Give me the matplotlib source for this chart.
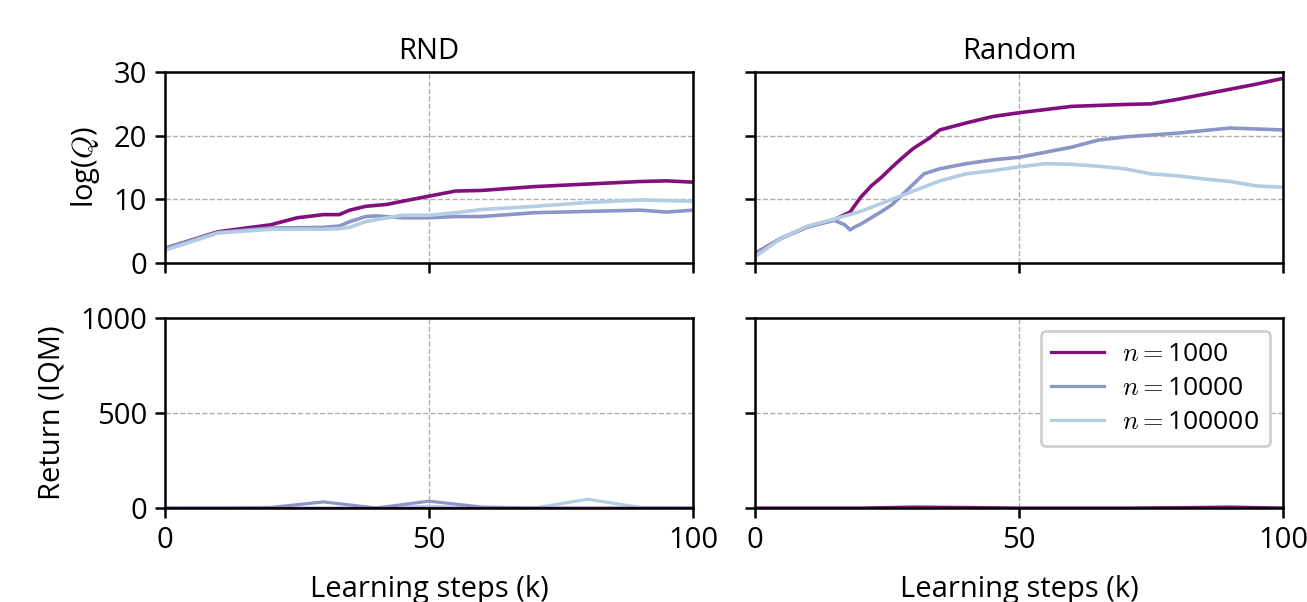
import numpy as np
import matplotlib
matplotlib.use("Agg")
import matplotlib.pyplot as plt

plt.rcParams['font.family'] = ['Open Sans', 'DejaVu Sans']
plt.rcParams['mathtext.fontset'] = 'cm'
plt.rcParams['font.size'] = 21

# data (k learning steps)
labels = ['$n{=}$1000', '$n{=}$10000', '$n{=}$100000']
colors = ['#810f7c', '#8c96c6', '#b3cde3']

rnd_steps = [0, 10, 20, 25, 30, 33, 35, 38, 42, 45, 50, 55, 60, 70, 80, 90, 95, 100]
rnd_q_1000 = [2.3, 4.9, 6.0, 7.1, 7.6, 7.6, 8.3, 8.9, 9.2, 9.7, 10.5, 11.3, 11.4, 12.0, 12.4, 12.8, 12.9, 12.7]

rnd_steps_b = [0, 10, 20, 30, 33, 35, 38, 40, 45, 50, 55, 60, 65, 70, 80, 90, 95, 100]
rnd_q_10000 = [2.3, 4.8, 5.5, 5.6, 5.8, 6.5, 7.3, 7.4, 7.1, 7.1, 7.3, 7.3, 7.6, 7.9, 8.1, 8.3, 8.0, 8.3]

rnd_steps_c = [0, 10, 20, 30, 33, 35, 38, 40, 45, 50, 55, 60, 70, 80, 90, 100]
rnd_q_100000 = [2.0, 4.7, 5.3, 5.3, 5.4, 5.6, 6.5, 6.8, 7.5, 7.5, 7.9, 8.4, 8.9, 9.5, 9.9, 9.7]

rand_steps_a = [0, 5, 10, 15, 18, 20, 22, 24, 26, 28, 30, 33, 35, 40, 45, 50, 55, 60, 70, 75, 80, 85, 90, 95, 100]
rand_q_1000 = [1.5, 3.9, 5.7, 6.8, 8.0, 10.3, 12.1, 13.5, 15.1, 16.6, 18.0, 19.6, 20.9, 22.0, 23.0, 23.6, 24.1,
               24.6, 24.9, 25.0, 25.7, 26.5, 27.3, 28.1, 29.0]

rand_steps_b = [0, 5, 10, 15, 17, 18, 19, 20, 22, 24, 26, 28, 30, 32, 35, 40, 45, 50, 55, 60, 65, 70, 80, 90, 100]
rand_q_10000 = [1.5, 3.9, 5.7, 6.7, 6.0, 5.2, 5.7, 6.1, 7.1, 8.1, 9.2, 10.8, 12.4, 14.0, 14.8, 15.6, 16.2, 16.6,
                17.4, 18.2, 19.3, 19.8, 20.4, 21.2, 20.9]

rand_steps_c = [0, 5, 10, 15, 20, 25, 30, 35, 40, 45, 50, 55, 60, 65, 70, 75, 80, 85, 90, 95, 100]
rand_q_100000 = [1.0, 3.9, 5.8, 6.9, 8.1, 9.7, 11.3, 12.9, 14.0, 14.5, 15.1, 15.6, 15.5, 15.2, 14.8, 14.0, 13.7,
                 13.2, 12.8, 12.1, 11.9]

eval_steps = [0, 10, 20, 30, 40, 50, 60, 70, 80, 90, 100]
rnd_ret_1000 = [0, 0, 0, 0, 0, 0, 0, 0, 0, 0, 0]
rnd_ret_10000 = [0, 0, 3, 32, 0, 36, 5, 0, 0, 0, 0]
rnd_ret_100000 = [0, 0, 0, 0, 0, 8, 0, 0, 46, 3, 0]
rand_ret_1000 = [0, 0, 0, 5, 3, 0, 0, 0, 2, 5, 0]
rand_ret_10000 = [0, 0, 0, 0, 0, 0, 0, 0, 0, 0, 0]
rand_ret_100000 = [0, 0, 0, 0, 0, 0, 0, 0, 0, 0, 0]

fig = plt.figure(figsize=(13.07, 6.02), dpi=100)
W, H = 1307, 602
def box(x0, x1, y0, y1):
    return [x0 / W, 1 - y1 / H, (x1 - x0) / W, (y1 - y0) / H]

ax_tl = fig.add_axes(box(165, 693, 72, 263))
ax_tr = fig.add_axes(box(755, 1283, 72, 263))
ax_bl = fig.add_axes(box(165, 693, 318, 508))
ax_br = fig.add_axes(box(755, 1283, 318, 508))

top = [
    (ax_tl, [(rnd_steps, rnd_q_1000), (rnd_steps_b, rnd_q_10000), (rnd_steps_c, rnd_q_100000)]),
    (ax_tr, [(rand_steps_a, rand_q_1000), (rand_steps_b, rand_q_10000), (rand_steps_c, rand_q_100000)]),
]
bottom = [
    (ax_bl, [rnd_ret_1000, rnd_ret_10000, rnd_ret_100000]),
    (ax_br, [rand_ret_1000, rand_ret_10000, rand_ret_100000]),
]

for ax, series in top:
    for (x, y), c in zip(series, colors):
        ax.plot(x, y, color=c, lw=2.6)
    ax.set_ylim(0, 30)
    ax.set_yticks([0, 10, 20, 30])

for ax, series in bottom:
    for i in [2, 1, 0]:
        ax.plot(eval_steps, series[i], color=colors[i], lw=2.3, label=labels[i])
    ax.set_ylim(0, 1000)
    ax.set_yticks([0, 500, 1000])

for ax in [ax_tl, ax_tr, ax_bl, ax_br]:
    ax.set_xlim(0, 100)
    ax.set_xticks([0, 50, 100])
    ax.grid(True, ls='--', color='#b0b0b0', lw=1.0)
    ax.set_axisbelow(True)
    for s in ax.spines.values():
        s.set_linewidth(1.8)
    ax.tick_params(width=1.8, length=7, labelsize=21, pad=6)

for ax in [ax_tl, ax_tr]:
    ax.tick_params(labelbottom=False)
for ax in [ax_tr, ax_br]:
    ax.tick_params(labelleft=False)

ax_tl.set_title('RND', fontsize=21, pad=9)
ax_tr.set_title('Random', fontsize=21, pad=9)
ax_tl.set_ylabel('log($Q$)', fontsize=21, labelpad=8)
ax_bl.set_ylabel('Return (IQM)', fontsize=21, labelpad=10)
ax_bl.set_xlabel('Learning steps (k)', fontsize=21, labelpad=14)
ax_br.set_xlabel('Learning steps (k)', fontsize=21, labelpad=14)

h, l = ax_br.get_legend_handles_labels()
leg = ax_br.legend(h[::-1], l[::-1], loc='upper right', fontsize=19, framealpha=1,
                   edgecolor='#d0d0d0', handlelength=2.0, handletextpad=0.7,
                   borderaxespad=0.5, labelspacing=0.35)
leg.get_frame().set_linewidth(2)

fig.savefig('out.png', dpi=100)
